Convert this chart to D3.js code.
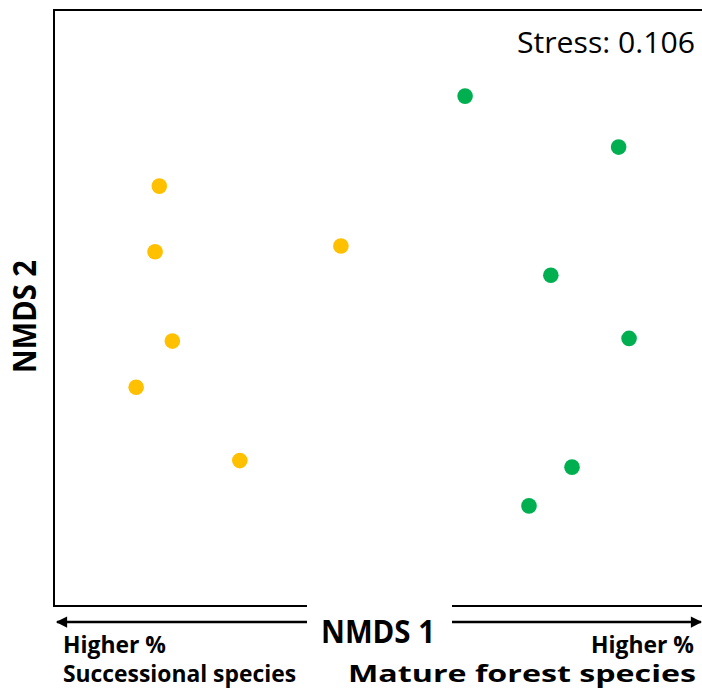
<!DOCTYPE html>
<html lang='en'>
  <head>
    <meta charset='utf-8'>
    <title>NMDS ordination</title>
    <script src='https://d3js.org/d3.v7.min.js'></script>
    <style>
      html, body { margin: 0; padding: 0; background: #fff; }
      svg { display: block; font-family: 'Open Sans', 'Noto Sans', sans-serif; }
    </style>
  </head>
  <body>
    <div class='vis'></div>
    <script>
      // NMDS scores
      const successionalX = [-0.677, -0.690, -0.120, -0.637, -0.748, -0.430];
      const successionalY = [0.409, 0.189, 0.208, -0.111, -0.266, -0.512];
      const matureX = [0.261, 0.732, 0.524, 0.764, 0.589, 0.457];
      const matureY = [0.711, 0.540, 0.110, -0.102, -0.534, -0.664];
      const stressValue = 0.106;

      const width = 702, height = 691;
      const plot = {left: 54, right: 706, top: 10, bottom: 606};

      const xScale = d3.scaleLinear().domain([-1, 1]).range([plot.left, plot.right]);
      const yScale = d3.scaleLinear().domain([-1, 1]).range([plot.bottom, plot.top]);

      const svg = d3.select('.vis')
        .append('svg')
          .attr('width', width)
          .attr('height', height);

      const defs = svg.append('defs');
      defs.append('marker')
        .attr('id', 'arrow')
        .attr('viewBox', '0 0 10 10')
        .attr('refX', 9).attr('refY', 5)
        .attr('markerWidth', 5.5).attr('markerHeight', 4.5)
        .attr('markerUnits', 'strokeWidth')
        .attr('orient', 'auto-start-reverse')
        .append('path')
          .attr('d', 'M0,0 L10,5 L0,10 z')
          .attr('fill', '#000');

      // frame
      svg.append('rect')
        .attr('x', plot.left)
        .attr('y', plot.top)
        .attr('width', plot.right - plot.left)
        .attr('height', plot.bottom - plot.top)
        .attr('fill', 'none')
        .attr('stroke', '#000')
        .attr('stroke-width', 2);

      // points
      const groups = [
        {xs: successionalX, ys: successionalY, color: '#FFC000'},
        {xs: matureX, ys: matureY, color: '#00B050'}
      ];
      groups.forEach((g) => {
        svg.append('g').selectAll('circle')
          .data(g.xs.map((x, i) => [x, g.ys[i]]))
          .enter().append('circle')
            .attr('cx', (d) => xScale(d[0]))
            .attr('cy', (d) => yScale(d[1]))
            .attr('r', 7.8)
            .attr('fill', g.color);
      });

      // white box behind the NMDS 1 label cuts the axis
      svg.append('rect')
        .attr('x', 307).attr('y', 598)
        .attr('width', 145).attr('height', 50)
        .attr('fill', '#fff');

      // direction arrows
      const arrowY = 622;
      svg.append('line')
        .attr('x1', 307).attr('y1', arrowY)
        .attr('x2', 57).attr('y2', arrowY)
        .attr('stroke', '#000').attr('stroke-width', 2.5)
        .attr('marker-end', 'url(#arrow)');
      svg.append('line')
        .attr('x1', 452).attr('y1', arrowY)
        .attr('x2', 701).attr('y2', arrowY)
        .attr('stroke', '#000').attr('stroke-width', 2.5)
        .attr('marker-end', 'url(#arrow)');

      // axis titles
      svg.append('text')
        .attr('x', 321).attr('y', 643)
        .attr('textLength', 114).attr('lengthAdjust', 'spacingAndGlyphs')
        .style('font-size', '32px').style('font-weight', 'bold')
        .text('NMDS 1');

      svg.append('text')
        .attr('transform', 'translate(36,373) rotate(-90)')
        .attr('textLength', 113).attr('lengthAdjust', 'spacingAndGlyphs')
        .style('font-size', '32px').style('font-weight', 'bold')
        .text('NMDS 2');

      // stress
      svg.append('text')
        .attr('x', 517).attr('y', 53)
        .attr('textLength', 178).attr('lengthAdjust', 'spacingAndGlyphs')
        .style('font-size', '30px')
        .text('Stress: ' + stressValue.toFixed(3));

      // gradient labels
      const labelStyle = (t) => t.style('font-size', '23px').style('font-weight', 'bold')
        .attr('lengthAdjust', 'spacingAndGlyphs');
      svg.append('text').attr('x', 63).attr('y', 653).attr('textLength', 103)
        .call(labelStyle).text('Higher %');
      svg.append('text').attr('x', 63).attr('y', 682).attr('textLength', 233)
        .call(labelStyle).text('Successional species');
      svg.append('text').attr('x', 591).attr('y', 653).attr('textLength', 103)
        .call(labelStyle).text('Higher %');
      svg.append('text').attr('x', 348).attr('y', 682).attr('textLength', 348)
        .call(labelStyle).text('Mature forest species');
    </script>
  </body>
</html>
